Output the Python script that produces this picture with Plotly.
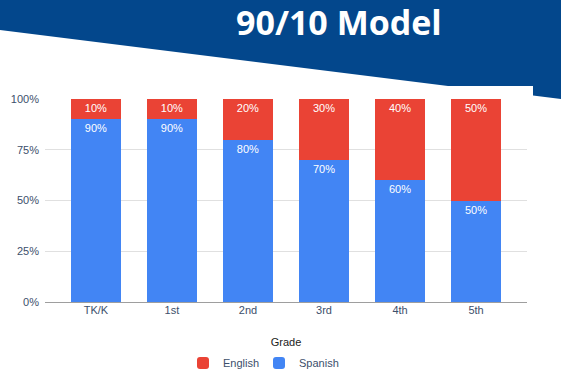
import plotly.graph_objects as go

grades = ["TK/K", "1st", "2nd", "3rd", "4th", "5th"]
spanish = [90, 90, 80, 70, 60, 50]
english = [10, 10, 20, 30, 40, 50]
y_ticks = [0, 25, 50, 75, 100]
y_ticklabels = ["0%", "25%", "50%", "75%", "100%"]

W, H = 561, 382
ML, MR, MT, MB = 45, 34, 99, 80
PW, PH = W - ML - MR, H - MT - MB
FONT = "Liberation Sans, Arial, sans-serif"

def px(x):
    return (x - ML) / PW

def py(y):
    return (H - MB - y) / PH

fig = go.Figure()
fig.add_trace(go.Bar(
    x=grades, y=spanish, name="Spanish", marker_color="#4285F4", legend="legend2",
    text=[f"{v}%" for v in spanish], textposition="inside", insidetextanchor="end",
    textfont=dict(color="white", size=11, family=FONT), marker_line_width=0,
))
fig.add_trace(go.Bar(
    x=grades, y=english, name="English", marker_color="#EA4335", legend="legend",
    text=[f"{v}%" for v in english], textposition="inside", insidetextanchor="end",
    textfont=dict(color="white", size=11, family=FONT), marker_line_width=0,
))

banner = [(0, 0), (561, 0), (561, 99), (533, 95.5), (533, 86), (448, 86), (0, 30)]
path = "M " + " L ".join(f"{px(a):.5f},{py(b):.5f}" for a, b in banner) + " Z"
fig.add_shape(type="path", path=path, xref="paper", yref="paper",
              fillcolor="#03478c", line_width=0, layer="below")

fig.add_annotation(text="<b>90/10 Model</b>", x=px(338.5), y=py(22), xref="paper", yref="paper",
                   showarrow=False, font=dict(family="Open Sans", size=34, color="white"),
                   xanchor="center", yanchor="middle")

legend_common = dict(orientation="h", xanchor="left", yref="container", bgcolor="rgba(0,0,0,0)",
                     y=(H - 363) / H, yanchor="middle", font=dict(size=11, color="#3c4f6b"))

fig.update_layout(
    width=W, height=H,
    margin=dict(l=ML, r=MR, t=MT, b=MB),
    barmode="stack", bargap=0.34, barcornerradius=2,
    plot_bgcolor="white", paper_bgcolor="white",
    font=dict(family=FONT, size=11, color="#3c4f6b"),
    showlegend=True,
    legend=dict(x=px(183), **legend_common),
    legend2=dict(x=px(259), **legend_common),
    xaxis=dict(range=[-0.67, 5.67], showgrid=False, ticks="", showline=False, automargin=False,
               title=dict(text="Grade", font=dict(size=11, color="#222222"), standoff=23),
               tickfont=dict(size=11, color="#3c4f6b")),
    yaxis=dict(range=[0, 100], tickvals=y_ticks, ticktext=y_ticklabels, automargin=False,
               gridcolor="#e0e0e0", zeroline=True, zerolinecolor="#9e9e9e", zerolinewidth=1,
               tickfont=dict(size=11, color="#3c4f6b"), ticklabelstandoff=5),
)

fig.write_html("out.html", config={"displayModeBar": False},
               post_script="document.body.style.margin='0';document.body.style.overflow='hidden';")
